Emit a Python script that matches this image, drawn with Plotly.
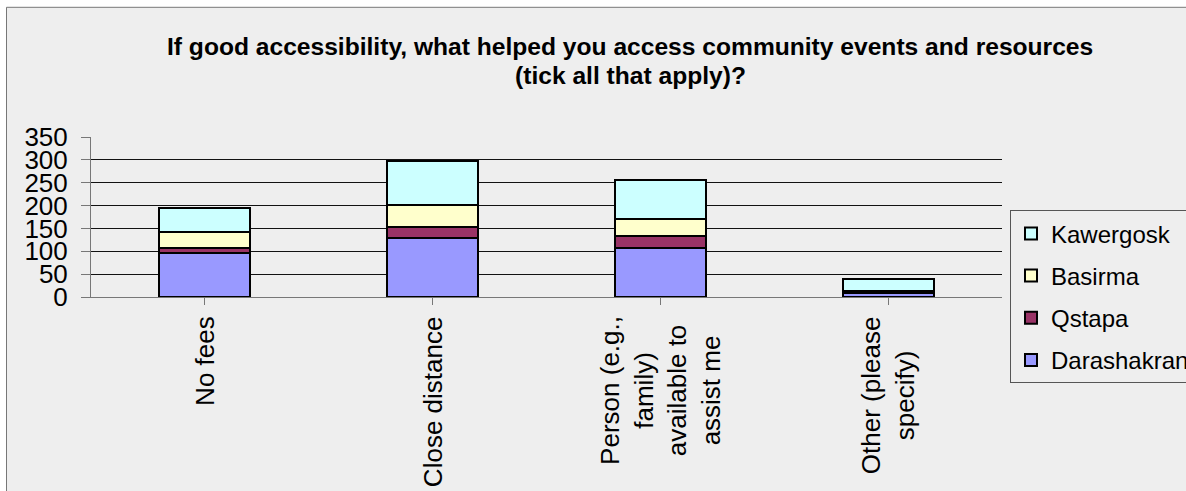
import plotly.graph_objects as go

categories = ["No fees", "Close distance", "Person (e.g.,<br>family)<br>available to<br>assist me", "Other (please<br>specify)"]
darashakran = [97, 130, 108, 8]
qstapa = [10, 24, 25, 2]
basirma = [35, 48, 37, 3]
kawergosk = [52, 96, 86, 26]

series = [
    ("Darashakran", darashakran, "#9999FF"),
    ("Qstapa", qstapa, "#993366"),
    ("Basirma", basirma, "#FFFFCC"),
    ("Kawergosk", kawergosk, "#CCFFFF"),
]

title_line1 = "<b>If good accessibility, what helped you access community events and resources</b>"
title_line2 = "<b>(tick all that apply)?</b>"

FONT = "Liberation Sans, Arial, sans-serif"
W, H = 1186, 491
L, R = 91, 1002
T, B = 136.7, 296.7

def px(x):
    return (x - L) / (R - L)

def py(y):
    return (B - y) / (B - T)

fig = go.Figure()
xs = list(range(len(categories)))
for i, (name, vals, col) in enumerate(series):
    fig.add_trace(go.Bar(
        name=name, x=xs, y=vals,
        marker=dict(color=col, line=dict(color="black", width=2)),
        legendgroup=name, legendrank=10 - i,
    ))

annotations = [
    dict(text=title_line1, x=px(630), y=py(31), xref="paper", yref="paper",
         xanchor="center", yanchor="top", showarrow=False, align="center",
         font=dict(family=FONT, size=24.6, color="black")),
    dict(text=title_line2, x=px(630), y=py(60), xref="paper", yref="paper",
         xanchor="center", yanchor="top", showarrow=False, align="center",
         font=dict(family=FONT, size=24.6, color="black")),
]
for i, c in enumerate(categories):
    annotations.append(dict(
        text=c, x=i, y=0, xref="x", yref="paper", xanchor="center", yanchor="top",
        yshift=-17, textangle=-90, showarrow=False, align="center",
        font=dict(family=FONT, size=26, color="black")))

fig.update_layout(
    width=W, height=H,
    margin=dict(l=L, r=W - R, t=T, b=H - B, autoexpand=False),
    barmode="stack", bargap=0.6,
    paper_bgcolor="white", plot_bgcolor="rgba(0,0,0,0)",
    font=dict(family=FONT, size=24, color="black"),
    showlegend=True,
    legend=dict(x=px(1010), y=py(210), xanchor="left", yanchor="top",
                traceorder="grouped", tracegroupgap=8, maxheight=400,
                bgcolor="#EEEEEE", bordercolor="#555555", borderwidth=1,
                font=dict(family=FONT, size=24, color="black")),
    annotations=annotations,
    shapes=[dict(type="rect", xref="paper", yref="paper",
                 x0=px(6.5), x1=px(1200), y0=py(500), y1=py(7),
                 fillcolor="#EEEEEE", line=dict(color="#777777", width=1),
                 layer="below")],
)
fig.update_xaxes(range=[-0.5, len(categories) - 0.5], showticklabels=False,
                 showline=True, linecolor="#777777", linewidth=1,
                 ticks="outside", tickson="boundaries", ticklen=7, tickcolor="#777777",
                 tickvals=xs, showgrid=False, zeroline=False)
fig.update_yaxes(range=[0, 350], dtick=50, showline=True, linecolor="#777777", linewidth=1,
                 ticks="outside", ticklen=9, tickcolor="#777777", ticklabelstandoff=8,
                 showgrid=True, gridcolor="#111111", gridwidth=1, zeroline=False,
                 tickfont=dict(family=FONT, size=26, color="black"))

fig.write_html("out.html", config={"displayModeBar": False},
               post_script="document.body.style.margin='0';document.body.style.overflow='hidden';")
